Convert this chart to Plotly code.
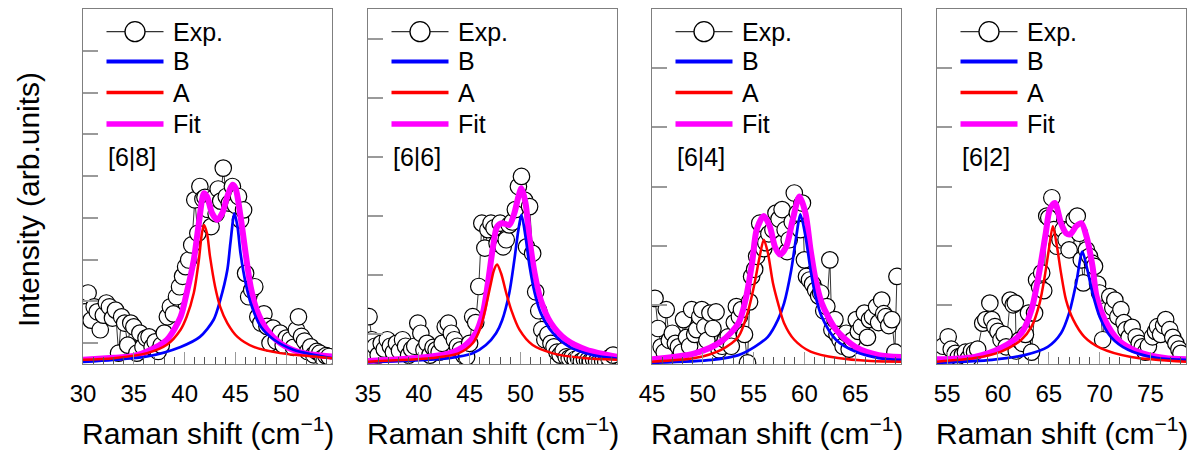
import plotly.graph_objects as go

# ---------------- data ----------------
labels = ["[6|8]", "[6|6]", "[6|4]", "[6|2]"]
legend_names = ["Exp.", "B", "A", "Fit"]
x_ranges = [[30, 54.5], [35, 59.5], [45, 69.5], [54, 78.5]]
x_ticks = [[30, 35, 40, 45, 50], [35, 40, 45, 50, 55], [45, 50, 55, 60, 65], [55, 60, 65, 70, 75]]
y_ranges = [[0, 8.5], [0, 6.0], [0, 6.0], [0, 6.0]]
y_ticks = [[0.5, 1.5, 2.5, 3.5, 4.5, 5.5, 6.5, 7.5], [0.5, 1.5, 2.5, 3.5, 4.5, 5.5],
           [1, 2, 3, 4, 5], [1, 2, 3, 4, 5]]

# Panel 1  [6|8]
exp1_x = [30.2, 30.5, 30.8, 31.1, 31.4, 31.7, 32.0, 32.3, 32.6, 32.9, 33.2, 33.5, 33.8, 34.1, 34.4, 34.7,
          35.0, 35.3, 35.6, 35.9, 36.2, 36.5, 36.8, 37.1, 37.4, 37.7, 38.0, 38.3, 38.6, 38.9, 39.2, 39.5,
          39.8, 40.1, 40.4, 40.7, 41.0, 41.3, 41.5, 41.8, 42.0, 42.3, 42.6, 42.85, 43.1, 43.3, 43.55, 43.8,
          44.1, 44.4, 44.7, 45.0, 45.3, 45.5, 45.8, 46.0, 46.3, 46.6, 46.9, 47.2, 47.5, 47.8, 48.1, 48.4,
          48.7, 49.0, 49.4, 49.7, 50.0, 50.4, 50.7, 51.0, 51.2, 51.5, 51.8, 52.1, 52.4, 52.7, 53.0, 53.3,
          53.6, 53.9, 54.2]
exp1_y = [1.25, 1.70, 1.05, 1.37, 1.25, 0.82, 1.17, 1.46, 1.37, 1.10, 1.29, 0.26, 1.13, 0.98, 0.45, 0.98,
          0.89, 0.26, 0.74, 0.41, 0.62, 0.65, 0.41, 0.53, 0.30, 0.45, 0.74, 1.13, 1.37, 1.20, 1.61, 1.85,
          2.10, 2.33, 2.49, 2.85, 3.93, 3.13, 4.25, 3.95, 3.99, 3.70, 3.29, 3.97, 3.60, 4.19, 3.90, 4.69,
          4.01, 3.85, 4.25, 3.80, 4.01, 3.45, 3.69, 2.17, 1.61, 1.77, 1.85, 1.13, 0.98, 1.20, 0.90, 0.50,
          0.86, 0.55, 0.74, 0.45, 0.62, 0.58, 0.40, 0.82, 1.13, 0.66, 0.55, 0.30, 0.41, 0.22, 0.30, 0.26,
          0.15, 0.20, 0.18]
a1_x = [30.0, 33.0, 36.3, 38.25, 39.6, 40.2, 40.9, 41.4, 41.7, 41.9, 42.2, 42.5, 43.0, 43.5, 44.2, 45.2, 46.8, 49.4, 52.7, 54.5]
a1_y = [0.10, 0.14, 0.26, 0.46, 0.82, 1.13, 1.70, 2.49, 3.13, 3.33, 3.13, 2.57, 1.85, 1.37, 0.98, 0.65, 0.41, 0.26, 0.18, 0.14]
b1_x = [30.0, 33.0, 36.3, 39.6, 41.5, 42.85, 43.5, 44.2, 44.5, 44.9, 45.2, 45.5, 46.0, 46.5, 47.5, 48.8, 50.7, 52.7, 54.5]
b1_y = [0.05, 0.10, 0.18, 0.41, 0.65, 1.06, 1.53, 2.25, 2.89, 3.61, 3.29, 2.65, 1.94, 1.46, 0.89, 0.58, 0.34, 0.22, 0.14]
f1_x = [30.0, 33.0, 35.0, 36.3, 38.25, 39.6, 40.2, 40.9, 41.4, 41.9, 42.2, 42.7, 43.2, 43.7, 44.2, 44.7, 45.0,
        45.5, 46.0, 46.5, 47.1, 48.1, 49.4, 51.1, 52.7, 54.5]
f1_y = [0.10, 0.15, 0.19, 0.30, 0.58, 1.13, 1.70, 2.49, 3.37, 4.09, 4.01, 3.61, 3.45, 3.61, 4.01, 4.29, 4.21,
        3.53, 2.65, 1.85, 1.29, 0.82, 0.50, 0.30, 0.22, 0.18]

# Panel 2  [6|6]
exp2_x = [35.1, 35.4, 35.7, 36.0, 36.3, 36.6, 36.9, 37.2, 37.5, 37.8, 38.1, 38.4, 38.7, 39.0, 39.3, 39.6,
          39.9, 40.2, 40.5, 40.8, 41.1, 41.4, 41.7, 42.0, 42.3, 42.6, 42.9, 43.2, 43.5, 43.8, 44.1, 44.4,
          44.7, 45.0, 45.3, 45.6, 45.9, 46.2, 46.5, 46.8, 47.1, 47.4, 47.7, 48.0, 48.3, 48.6, 48.9, 49.2,
          49.5, 49.8, 50.1, 50.4, 50.6, 50.9, 51.2, 51.5, 51.8, 52.1, 52.4, 52.7, 53.0, 53.3, 53.6, 53.9,
          54.2, 54.5, 54.8, 55.1, 55.4, 55.7, 56.0, 56.3, 56.6, 56.9, 57.2, 57.5, 57.8, 58.1, 58.4, 58.7, 59.1]
exp2_y = [0.80, 0.41, 0.30, 0.15, 0.35, 0.25, 0.41, 0.30, 0.20, 0.35, 0.22, 0.41, 0.30, 0.15, 0.25, 0.30,
          0.69, 0.52, 0.24, 0.35, 0.15, 0.28, 0.24, 0.20, 0.35, 0.63, 0.69, 0.52, 0.41, 0.30, 0.24, 0.15,
          0.12, 0.35, 0.80, 0.70, 1.31, 2.38, 1.96, 2.27, 2.38, 2.30, 2.04, 2.38, 1.98, 2.10, 2.35, 2.40,
          2.61, 3.00, 3.17, 2.77, 1.98, 2.66, 1.87, 1.22, 0.90, 0.58, 0.41, 0.50, 0.35, 0.29, 0.20, 0.15,
          0.22, 0.12, 0.10, 0.12, 0.08, 0.10, 0.05, 0.08, 0.06, 0.05, 0.08, 0.05, 0.04, 0.05, 0.04, 0.10, 0.15]
a2_x = [35.0, 41.3, 43.9, 45.3, 46.1, 46.6, 47.1, 47.4, 47.7, 48.1, 48.6, 49.1, 49.9, 51.2, 53.2, 56.2, 59.5]
a2_y = [0.04, 0.10, 0.18, 0.35, 0.63, 0.97, 1.37, 1.59, 1.68, 1.53, 1.20, 0.91, 0.58, 0.32, 0.18, 0.10, 0.07]
b2_x = [35.0, 43.0, 45.3, 46.6, 47.6, 48.2, 48.9, 49.4, 49.8, 50.1, 50.5, 50.9, 51.4, 52.0, 53.2, 54.8, 57.1, 59.5]
b2_y = [0.03, 0.10, 0.18, 0.32, 0.52, 0.74, 1.20, 1.76, 2.27, 2.52, 2.15, 1.65, 1.20, 0.86, 0.52, 0.29, 0.15, 0.09]
f2_x = [35.0, 39.7, 43.0, 44.6, 45.6, 46.3, 46.8, 47.3, 47.7, 48.2, 48.9, 49.4, 49.8, 50.1, 50.5, 50.9, 51.4,
        52.0, 53.0, 54.5, 56.5, 59.5]
f2_y = [0.05, 0.10, 0.18, 0.32, 0.52, 0.86, 1.37, 1.98, 2.32, 2.38, 2.35, 2.55, 2.83, 2.97, 2.72, 2.10, 1.53,
        1.08, 0.69, 0.41, 0.24, 0.12]

# Panel 3  [6|4]
exp3_x = [45.3, 45.6, 45.9, 46.2, 46.4, 46.7, 47.0, 47.3, 47.6, 47.9, 48.1, 48.4, 48.7, 48.9, 49.2, 49.4,
          49.7, 49.9, 50.2, 50.4, 50.7, 51.0, 51.3, 51.6, 51.9, 52.2, 52.5, 52.8, 53.1, 53.3, 53.6, 53.8,
          54.1, 54.4, 54.6, 54.8, 55.1, 55.3, 55.6, 55.8, 56.0, 56.2, 56.5, 56.9, 57.2, 57.5, 57.8, 58.1,
          58.3, 58.5, 58.8, 59.0, 59.3, 59.6, 59.8, 60.0, 60.2, 60.5, 60.8, 61.1, 61.4, 61.6, 61.9, 62.2,
          62.5, 62.7, 63.0, 63.2, 63.5, 63.8, 64.1, 64.4, 64.7, 65.1, 65.3, 65.6, 65.9, 66.2, 66.4, 66.7,
          67.1, 67.3, 67.6, 67.8, 68.0, 68.3, 68.6, 68.9, 69.1]
exp3_y = [1.11, 0.60, 0.29, 0.20, 0.92, 0.40, 0.52, 0.35, 0.29, 0.20, 0.75, 0.45, 0.30, 0.92, 0.50, 0.58,
          0.80, 0.92, 0.63, 0.40, 0.86, 0.60, 0.88, 0.24, 0.30, 0.40, 0.46, 0.30, 0.70, 0.97, 0.80, 0.92,
          0.50, 0.02, 1.05, 1.48, 1.60, 1.82, 2.38, 2.10, 1.95, 2.05, 2.20, 2.27, 2.55, 2.45, 2.61, 2.27,
          1.90, 2.10, 2.40, 2.89, 2.55, 2.27, 2.72, 1.76, 1.48, 1.42, 1.35, 1.25, 1.15, 1.20, 0.90, 0.97,
          1.76, 0.58, 0.75, 0.50, 0.41, 0.30, 0.52, 0.25, 0.40, 0.75, 0.55, 0.63, 0.86, 0.45, 0.75, 0.80,
          0.97, 0.70, 1.08, 0.85, 0.80, 0.65, 0.75, 0.20, 1.48]
a3_x = [45.0, 49.2, 51.8, 53.5, 54.4, 55.1, 55.6, 56.0, 56.4, 56.9, 57.4, 58.0, 59.0, 60.6, 63.3, 66.5, 69.5]
a3_y = [0.04, 0.10, 0.24, 0.46, 0.86, 1.37, 1.82, 2.10, 1.88, 1.37, 1.03, 0.69, 0.41, 0.21, 0.10, 0.05, 0.04]
b3_x = [45.0, 50.9, 53.5, 55.1, 56.4, 57.4, 58.0, 58.7, 59.2, 59.6, 60.1, 60.6, 61.1, 61.7, 63.1, 65.0, 67.3, 69.5]
b3_y = [0.02, 0.07, 0.15, 0.29, 0.46, 0.75, 1.03, 1.59, 2.16, 2.53, 2.16, 1.59, 1.14, 0.80, 0.41, 0.21, 0.10, 0.07]
f3_x = [45.0, 49.2, 51.8, 53.5, 54.2, 54.85, 55.3, 56.0, 56.6, 57.1, 57.6, 58.2, 58.85, 59.5, 60.1, 60.6, 61.1,
        61.7, 63.1, 65.0, 67.3, 69.5]
f3_y = [0.08, 0.18, 0.38, 0.69, 1.08, 1.71, 2.27, 2.50, 2.32, 1.98, 1.85, 1.98, 2.44, 2.83, 2.55, 1.93, 1.42,
        1.03, 0.58, 0.29, 0.15, 0.12]

# Panel 4  [6|2]
exp4_x = [54.2, 54.6, 55.1, 55.4, 55.8, 56.1, 56.5, 56.8, 57.1, 57.4, 57.7, 58.0, 58.5, 58.8, 59.2, 59.4,
          59.7, 60.0, 60.3, 60.6, 60.8, 61.2, 61.5, 61.7, 61.8, 62.1, 62.4, 62.7, 63.0, 63.3, 63.6, 63.8,
          64.1, 64.3, 64.5, 64.8, 65.0, 65.3, 65.5, 65.8, 66.1, 66.4, 66.7, 67.0, 67.2, 67.5, 67.8, 68.0,
          68.2, 68.4, 68.7, 69.0, 69.3, 69.5, 69.8, 70.0, 70.3, 70.6, 71.0, 71.3, 71.5, 71.8, 72.1, 72.4,
          72.6, 72.9, 73.2, 73.6, 73.9, 74.2, 74.5, 74.8, 75.2, 75.5, 75.7, 76.0, 76.3, 76.5, 76.9, 77.2,
          77.5, 77.8, 78.0]
exp4_y = [0.15, 0.30, 0.46, 0.25, 0.18, 0.12, 0.15, 0.20, 0.10, 0.22, 0.20, 0.25, 0.69, 0.75, 1.03, 0.75,
          0.63, 0.55, 0.41, 0.50, 0.29, 1.08, 1.00, 1.03, 0.22, 0.40, 0.35, 0.50, 0.86, 0.20, 0.86, 1.42,
          1.30, 1.54, 1.24, 2.50, 2.47, 2.81, 2.27, 1.99, 2.10, 2.27, 2.10, 1.93, 2.30, 2.44, 2.50, 2.21,
          1.76, 1.37, 1.93, 1.82, 1.70, 1.65, 1.35, 1.20, 0.41, 0.90, 1.14, 0.95, 1.08, 0.80, 0.92, 0.70,
          0.58, 0.45, 0.62, 0.46, 0.35, 0.29, 0.20, 0.30, 0.46, 0.55, 0.63, 0.50, 0.65, 0.75, 0.58, 0.45,
          0.35, 0.25, 0.18]
a4_x = [54.0, 57.7, 60.3, 62.3, 63.3, 64.1, 64.6, 65.0, 65.4, 65.8, 66.2, 66.7, 67.4, 68.5, 70.1, 73.1, 78.5]
a4_y = [0.04, 0.10, 0.21, 0.41, 0.63, 1.03, 1.48, 1.93, 2.33, 1.99, 1.54, 1.08, 0.75, 0.46, 0.27, 0.12, 0.04]
b4_x = [54.0, 59.4, 62.6, 64.9, 66.2, 67.0, 67.7, 68.3, 68.8, 69.3, 70.0, 71.1, 72.8, 75.7, 78.5]
b4_y = [0.02, 0.07, 0.15, 0.29, 0.52, 0.86, 1.37, 1.90, 1.59, 1.20, 0.80, 0.46, 0.24, 0.10, 0.07]
f4_x = [54.0, 57.7, 60.3, 62.3, 63.3, 64.1, 64.7, 65.1, 65.6, 66.2, 66.7, 67.1, 67.7, 68.2, 68.7, 69.3, 69.7,
        70.5, 71.8, 73.7, 76.4, 78.5]
f4_y = [0.08, 0.12, 0.27, 0.52, 0.92, 1.59, 2.21, 2.61, 2.72, 2.38, 2.21, 2.19, 2.33, 2.38, 2.16, 1.65, 1.14,
        0.75, 0.41, 0.21, 0.10, 0.08]

# ---------------- layout geometry ----------------
W, H = 1198, 457
panel_px = [(83, 332), (368, 617), (652, 901), (937, 1186)]
top_px, bot_px = 9, 364
FONT = "Liberation Sans, Arial, sans-serif"
C_EXP, C_B, C_A, C_FIT = "black", "#0000FF", "#FF0000", "#FF00FF"

panels = [
    (exp1_x, exp1_y, a1_x, a1_y, b1_x, b1_y, f1_x, f1_y),
    (exp2_x, exp2_y, a2_x, a2_y, b2_x, b2_y, f2_x, f2_y),
    (exp3_x, exp3_y, a3_x, a3_y, b3_x, b3_y, f3_x, f3_y),
    (exp4_x, exp4_y, a4_x, a4_y, b4_x, b4_y, f4_x, f4_y),
]


def px(xp):
    return xp / W


def py(yp):
    return 1 - yp / H


fig = go.Figure()
layout = dict(
    width=W, height=H, margin=dict(l=0, r=0, t=0, b=0, autoexpand=False),
    paper_bgcolor="white", plot_bgcolor="white", showlegend=False,
    font=dict(family=FONT, color="black"),
    annotations=[], shapes=[],
)

for i, (ex, ey, ax_, ay, bx, by, fx, fy) in enumerate(panels):
    n = i + 1
    xa = "x" if n == 1 else f"x{n}"
    ya = "y" if n == 1 else f"y{n}"
    common = dict(xaxis=xa, yaxis=ya, showlegend=False)
    fig.add_trace(go.Scatter(x=ex, y=ey, name="Exp.", mode="lines+markers",
                             line=dict(color=C_EXP, width=0.8),
                             marker=dict(symbol="circle", size=16.5, color="white",
                                         line=dict(color="black", width=1.2)), **common))
    fig.add_trace(go.Scatter(x=fx, y=fy, name="Fit", mode="lines",
                             line=dict(color=C_FIT, width=6, shape="spline", smoothing=0.8), **common))
    fig.add_trace(go.Scatter(x=bx, y=by, name="B", mode="lines",
                             line=dict(color=C_B, width=2.7, shape="spline", smoothing=0.8), **common))
    fig.add_trace(go.Scatter(x=ax_, y=ay, name="A", mode="lines",
                             line=dict(color=C_A, width=2.5, shape="spline", smoothing=0.8), **common))

    x0, x1 = panel_px[i]
    key_x = "xaxis" if n == 1 else f"xaxis{n}"
    key_y = "yaxis" if n == 1 else f"yaxis{n}"
    layout[key_x] = dict(
        domain=[px(x0), px(x1)], anchor=ya, range=x_ranges[i],
        tickmode="array", tickvals=x_ticks[i], ticks="inside", ticklen=12, tickwidth=1,
        tickcolor="#999999", ticklabelstandoff=8,
        tickfont=dict(size=24, family=FONT, color="black"),
        minor=dict(ticks="inside", ticklen=7, tickwidth=1, tickcolor="#555555", dtick=1, tick0=0),
        showline=True, mirror=True, linecolor="#7f7f7f", linewidth=1.2,
        showgrid=False, zeroline=False, automargin=False,
    )
    layout[key_y] = dict(
        domain=[py(bot_px), py(top_px)], anchor=xa, range=y_ranges[i],
        tickmode="array", tickvals=y_ticks[i], ticks="inside", ticklen=15, tickwidth=1.5,
        tickcolor="#9a9a9a", showticklabels=False,
        showline=True, mirror=True, linecolor="#7f7f7f", linewidth=1.2,
        showgrid=False, zeroline=False, automargin=False,
    )

    # legend block (key samples + names) in the upper-left corner of each panel
    lx0, lx1 = x0 + 23.5, x0 + 80.5
    rows = [31.7, 61.5, 92.5, 124.0]
    styles = [(C_EXP, 1.2), (C_B, 4.0), (C_A, 3.4), (C_FIT, 5.6)]
    for r, (col, wd), name in zip(rows, styles, legend_names):
        layout["shapes"].append(dict(type="line", xref="paper", yref="paper",
                                     x0=px(lx0), x1=px(lx1), y0=py(r), y1=py(r),
                                     line=dict(color="#333333" if name == "Exp." else col, width=wd)))
        layout["annotations"].append(dict(
            text=name, xref="paper", yref="paper", x=px(x0 + 88), y=py(r),
            xanchor="left", yanchor="middle", showarrow=False,
            font=dict(size=25, family=FONT, color="black")))
    cx, cy, rr = x0 + 52, rows[0], 10
    layout["shapes"].append(dict(type="circle", xref="paper", yref="paper",
                                 x0=px(cx - rr), x1=px(cx + rr), y0=py(cy + rr), y1=py(cy - rr),
                                 fillcolor="white", line=dict(color="black", width=1.3)))

    layout["annotations"].append(dict(
        text=labels[i], xref="paper", yref="paper", x=px(x0 + 23), y=py(157),
        xanchor="left", yanchor="middle", showarrow=False,
        font=dict(size=25, family=FONT, color="black")))
    layout["annotations"].append(dict(
        text="Raman shift (cm<sup>−1</sup>)", xref="paper", yref="paper",
        x=px((x0 + x1) / 2), y=py(431), xanchor="center", yanchor="middle",
        showarrow=False, font=dict(size=30, family=FONT, color="black")))

layout["annotations"].append(dict(
    text="Intensity (arb.units)", xref="paper", yref="paper", x=px(28), y=py(200),
    xanchor="center", yanchor="middle", textangle=-90, showarrow=False,
    font=dict(size=30, family=FONT, color="black")))

fig.update_layout(**layout)
fig.write_html("out.html", config={"displayModeBar": False},
               post_script="document.body.style.margin='0px';document.body.style.overflow='hidden';")
